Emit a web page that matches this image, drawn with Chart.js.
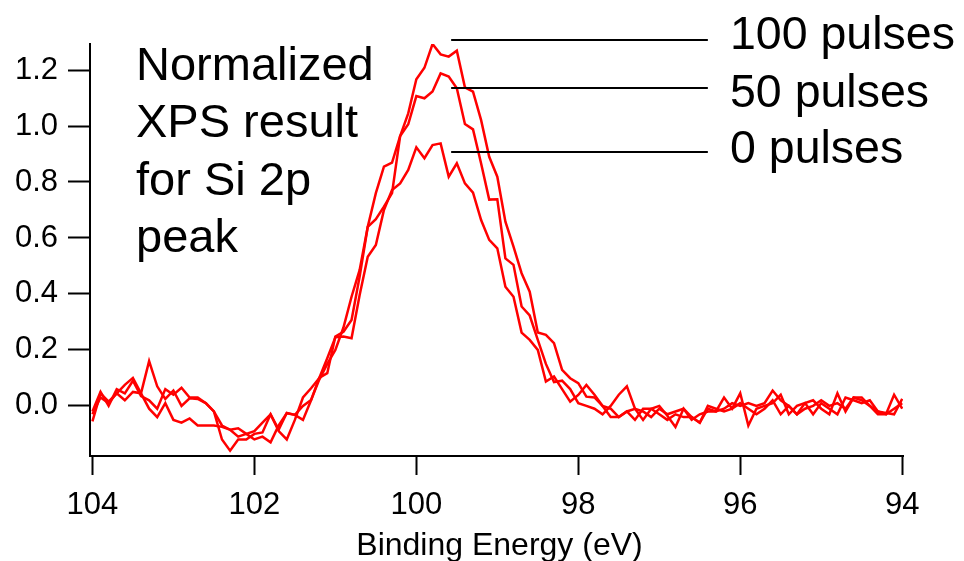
<!DOCTYPE html>
<html>
<head>
<meta charset="utf-8">
<title>XPS Si 2p</title>
<script src="https://cdn.jsdelivr.net/npm/chart.js@4.4.1/dist/chart.umd.min.js"></script>
<style>
  html, body { margin: 0; padding: 0; background: #fff; }
  #wrap { width: 964px; height: 561px; position: relative; }
</style>
</head>
<body>
<div id="wrap"><canvas id="xps-chart"></canvas></div>
<script>
// binding energy grid (eV), one point every 0.1 eV
const energy = [
    104.0, 103.9, 103.8, 103.7, 103.6, 103.5, 103.4, 103.3, 103.2, 103.1,
    103.0, 102.9, 102.8, 102.7, 102.6, 102.5, 102.4, 102.3, 102.2, 102.1,
    102.0, 101.9, 101.8, 101.7, 101.6, 101.5, 101.4, 101.3, 101.2, 101.1,
    101.0, 100.9, 100.8, 100.7, 100.6, 100.5, 100.4, 100.3, 100.2, 100.1,
    100.0, 99.9, 99.8, 99.7, 99.6, 99.5, 99.4, 99.3, 99.2, 99.1,
    99.0, 98.9, 98.8, 98.7, 98.6, 98.5, 98.4, 98.3, 98.2, 98.1,
    98.0, 97.9, 97.8, 97.7, 97.6, 97.5, 97.4, 97.3, 97.2, 97.1,
    97.0, 96.9, 96.8, 96.7, 96.6, 96.5, 96.4, 96.3, 96.2, 96.1,
    96.0, 95.9, 95.8, 95.7, 95.6, 95.5, 95.4, 95.3, 95.2, 95.1,
    95.0, 94.9, 94.8, 94.7, 94.6, 94.5, 94.4, 94.3, 94.2, 94.1,
    94.0
];

const pulses0 = [
    -0.03, 0.03, 0.01, 0.045, 0.02, 0.05, 0.045, 0.16, 0.07, 0.025,
    0.055, 0.0, 0.027, 0.025, 0.01, -0.02, -0.07, -0.085, -0.11, -0.10,
    -0.09, -0.06, -0.03, -0.09, -0.12, -0.05, 0.03, 0.063, 0.099, 0.17,
    0.245, 0.248, 0.242, 0.396, 0.533, 0.575, 0.70, 0.771, 0.795, 0.843,
    0.924, 0.885, 0.932, 0.938, 0.819, 0.867, 0.795, 0.762, 0.664, 0.593,
    0.563, 0.426, 0.39, 0.262, 0.236, 0.20, 0.087, 0.105, 0.06, 0.015,
    0.039, 0.075, 0.04, 0.0, -0.04, -0.04, -0.02, -0.01, -0.02, -0.04,
    -0.01, -0.03, -0.02, -0.01, -0.04, -0.06, -0.01, -0.02, -0.01, 0.01,
    0.0, 0.01, 0.0, 0.01, 0.055, 0.02, 0.0, -0.03, 0.01, 0.02,
    -0.01, -0.03, 0.045, -0.02, 0.03, 0.03, 0.0, -0.02, -0.03, 0.04,
    -0.01
];

const pulses50 = [
    -0.055, 0.045, 0.015, 0.045, 0.075, 0.10, 0.045, -0.01, -0.04, 0.01,
    -0.05, -0.06, -0.045, -0.07, -0.07, -0.07, -0.075, -0.085, -0.08, -0.10,
    -0.12, -0.11, -0.13, -0.07, -0.026, -0.032, -0.05, 0.02, 0.10, 0.117,
    0.248, 0.265, 0.307, 0.462, 0.64, 0.667, 0.712, 0.76, 0.964, 1.006,
    1.107, 1.099, 1.123, 1.188, 1.177, 1.135, 1.007, 0.988, 0.866, 0.737,
    0.738, 0.527, 0.504, 0.355, 0.323, 0.236, 0.15, 0.085, 0.09, 0.06,
    0.01, 0.0, -0.01, -0.03, 0.0, 0.04, 0.07, -0.01, -0.05, -0.01,
    0.0, -0.035, -0.075, -0.01, -0.05, -0.03, -0.02, -0.02, 0.03, -0.01,
    0.045, -0.07, -0.01, 0.0, 0.01, 0.04, -0.03, 0.0, 0.01, -0.03,
    0.01, -0.01, -0.03, 0.03, 0.02, 0.01, 0.02, -0.02, -0.025, -0.03,
    0.025
];

const pulses100 = [
    -0.02, 0.05, 0.0, 0.06, 0.045, 0.09, 0.035, 0.02, -0.01, 0.06,
    0.04, 0.065, 0.03, 0.03, 0.01, -0.02, -0.12, -0.16, -0.12, -0.12,
    -0.10, -0.095, -0.03, -0.085, -0.025, -0.032, 0.0, 0.021, 0.093, 0.15,
    0.20, 0.28, 0.39, 0.486, 0.64, 0.76, 0.855, 0.869, 0.964, 1.045,
    1.167, 1.208, 1.293, 1.256, 1.248, 1.269, 1.138, 1.123, 1.021, 0.89,
    0.819, 0.658, 0.569, 0.474, 0.408, 0.262, 0.254, 0.224, 0.129, 0.099,
    0.081, 0.033, 0.03, 0.0, -0.01, -0.04, -0.02, -0.05, -0.01, -0.01,
    -0.03, -0.05, -0.03, -0.04, -0.04, -0.06, 0.0, -0.01, -0.02, -0.01,
    0.01, -0.01, -0.03, -0.01, 0.02, -0.03, 0.0, -0.03, -0.01, 0.0,
    0.02, 0.0, 0.01, -0.01, 0.03, 0.02, 0.0, -0.03, -0.03, -0.01,
    0.01
];

const xTicks = [104, 102, 100, 98, 96, 94];
const yTicks = [0.0, 0.2, 0.4, 0.6, 0.8, 1.0, 1.2];
const seriesNames = ['100 pulses', '50 pulses', '0 pulses'];
const noteLines = ['Normalized', 'XPS result', 'for Si 2p', 'peak'];

// where the series name pointers sit (data units) and where their text goes (px)
const pointerFrom = 99.57;
const pointerTo = 96.4;
const pointerLevel = [1.307, 1.136, 0.907];
const nameBaseline = [49, 107, 163];

const FONT = '"Liberation Sans", Arial, sans-serif';
const RED = 'rgb(255, 0, 0)';

const toPoints = (vals) => energy.map((e, i) => ({ x: e, y: vals[i] }));

const annotate = {
    id: 'annotate',
    afterDraw(chart) {
        const { ctx, scales: { x, y } } = chart;
        ctx.save();
        ctx.fillStyle = '#000';
        ctx.strokeStyle = '#000';
        ctx.lineWidth = 2;
        ctx.textBaseline = 'alphabetic';

        // text block at the upper left
        ctx.font = `47px ${FONT}`;
        ctx.textAlign = 'left';
        noteLines.forEach((t, i) => ctx.fillText(t, 136, 80 + i * 57.3));

        // series names with pointer lines
        const x1 = x.getPixelForValue(pointerFrom);
        const x2 = x.getPixelForValue(pointerTo);
        ctx.font = `46.5px ${FONT}`;
        seriesNames.forEach((name, i) => {
            const py = Math.round(y.getPixelForValue(pointerLevel[i]));
            ctx.beginPath();
            ctx.moveTo(x1, py);
            ctx.lineTo(x2, py);
            ctx.stroke();
            ctx.fillText(name, 730, nameBaseline[i]);
        });

        // axis title
        ctx.font = `32px ${FONT}`;
        ctx.textAlign = 'center';
        ctx.fillText('Binding Energy (eV)', (chart.chartArea.left + chart.chartArea.right) / 2 + 3, 555);
        ctx.restore();
    }
};

const config = {
    type: 'line',
    data: {
        datasets: [
            { label: seriesNames[0], data: toPoints(pulses100) },
            { label: seriesNames[1], data: toPoints(pulses50) },
            { label: seriesNames[2], data: toPoints(pulses0) }
        ].map(ds => ({
            ...ds,
            borderColor: RED,
            backgroundColor: RED,
            borderWidth: 2.5,
            pointRadius: 0,
            tension: 0,
            fill: false
        }))
    },
    options: {
        responsive: true,
        maintainAspectRatio: false,
        animation: false,
        devicePixelRatio: 1,
        layout: { padding: { top: 44, right: 61, left: 0, bottom: 0 } },
        plugins: {
            legend: { display: false },
            tooltip: { enabled: false },
            title: { display: false }
        },
        scales: {
            x: {
                type: 'linear',
                reverse: true,
                min: 93.99,
                max: 104.03,
                afterBuildTicks: (scale) => { scale.ticks = xTicks.map(v => ({ value: v })); },
                afterFit: (scale) => { scale.height = 105; },
                border: { display: true, color: '#000', width: 2 },
                grid: { display: true, drawOnChartArea: false, drawTicks: true, tickLength: 19, tickColor: '#000', tickWidth: 2 },
                ticks: {
                    color: '#000',
                    padding: 12,
                    maxRotation: 0,
                    autoSkip: false,
                    font: { family: FONT, size: 31 },
                    callback: (v) => String(v)
                }
            },
            y: {
                type: 'linear',
                min: -0.179,
                max: 1.293,
                afterBuildTicks: (scale) => { scale.ticks = yTicks.map(v => ({ value: v })); },
                afterFit: (scale) => { scale.width = 90; },
                border: { display: true, color: '#000', width: 2 },
                grid: { display: true, drawOnChartArea: false, drawTicks: true, tickLength: 22, tickColor: '#000', tickWidth: 2 },
                ticks: {
                    color: '#000',
                    padding: 10,
                    autoSkip: false,
                    font: { family: FONT, size: 31 },
                    callback: (v) => Number(v).toFixed(1)
                }
            }
        }
    },
    plugins: [annotate]
};

document.addEventListener('DOMContentLoaded', () => {
    const ctx = document.getElementById('xps-chart').getContext('2d');
    new Chart(ctx, config);
});
</script>
</body>
</html>
